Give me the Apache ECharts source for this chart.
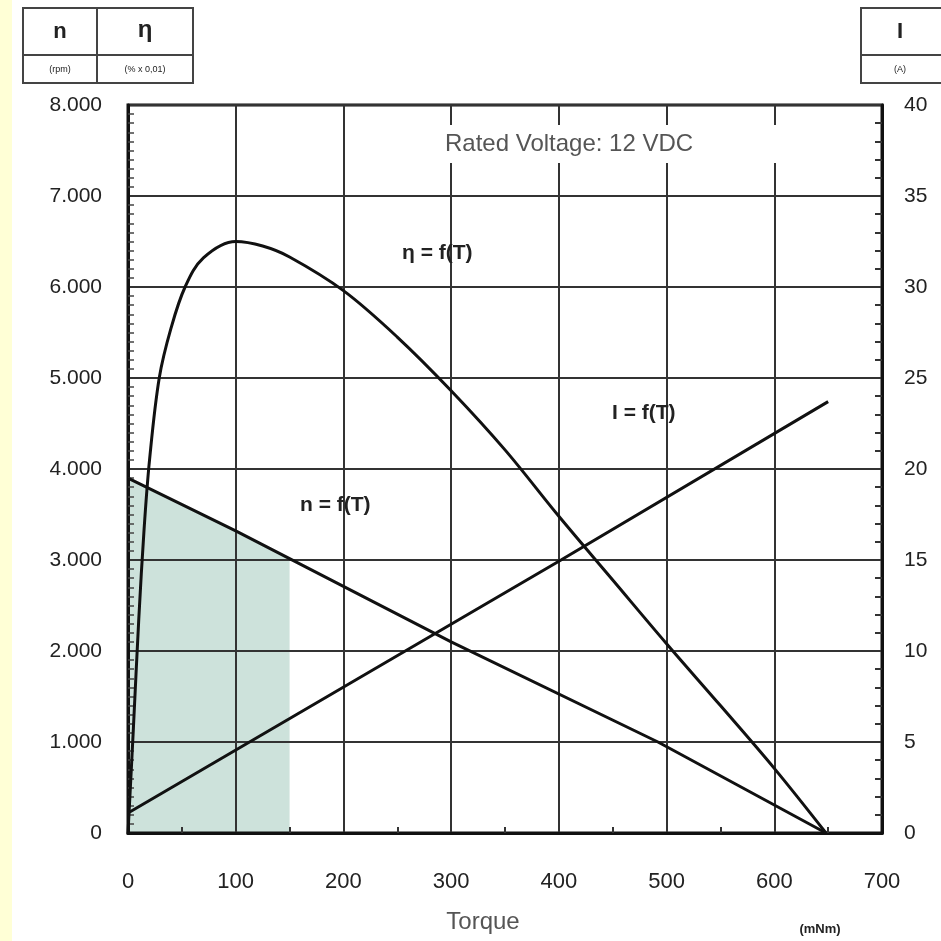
<!DOCTYPE html>
<html>
<head>
<meta charset="utf-8">
<script src="https://cdn.jsdelivr.net/npm/echarts@6/dist/echarts.min.js"></script>
<style>
html,body{margin:0;padding:0;background:#fff;}
#c{width:941px;height:941px;}
</style>
</head>
<body>
<div id="c"></div>
<script>
// Torque axis (mNm)
var xTicks = [0, 100, 200, 300, 400, 500, 600, 700];
var leftTicks = ['0', '1.000', '2.000', '3.000', '4.000', '5.000', '6.000', '7.000', '8.000'];
var rightTicks = [0, 5, 10, 15, 20, 25, 30, 35, 40];
// n = f(T) (rpm)
var speedData = [[0, 3900], [100, 3320], [300, 2100], [492, 1000], [648, 0]];
// shaded operating range
var shadeData = [[0, 3900], [100, 3320], [150, 3010]];
// eta = f(T) (% x 0,01)
var etaData = [[0, 0], [5, 1150], [10, 2350], [15, 3350], [20, 4100], [29, 5000], [40, 5550], [53, 6000],
  [70, 6320], [100, 6500], [125, 6450], [150, 6330], [200, 5960], [250, 5450], [300, 4860], [350, 4210],
  [400, 3480], [450, 2780], [500, 2080], [550, 1400], [600, 710], [648, 0]];
// I = f(T) (A)
var currentData = [[0, 1.1], [402, 15.0], [650, 23.7]];

var chart = echarts.init(document.getElementById('c'), null, {renderer: 'canvas'});
var FONT = 'Liberation Sans, Arial, sans-serif';
var txt = '#222';
var gridCol = '#333';

chart.setOption({
  backgroundColor: '#fff',
  animation: false,
  grid: {left: 128, right: 59, top: 105, bottom: 108, show: true, borderColor: '#111', borderWidth: 3, backgroundColor: 'transparent'},
  xAxis: {
    type: 'value', min: 0, max: 700, interval: 100,
    axisLine: {show: true, lineStyle: {color: '#111', width: 3}},
    axisTick: {show: false, inside: true},
    minorTick: {show: true, splitNumber: 2, length: 6, lineStyle: {color: '#333', width: 2}},
    splitLine: {show: true, lineStyle: {color: gridCol, width: 2}},
    axisLabel: {color: txt, fontFamily: FONT, fontSize: 22, margin: 38,
      formatter: function (v) { return xTicks.indexOf(v) >= 0 ? String(v) : ''; }}
  },
  yAxis: [{
    type: 'value', min: 0, max: 8000, interval: 1000, position: 'left',
    axisLine: {show: true, lineStyle: {color: '#111', width: 3}},
    axisTick: {show: false, inside: true},
    minorTick: {show: true, splitNumber: 10, length: 6, lineStyle: {color: '#444', width: 1.5}},
    splitLine: {show: true, lineStyle: {color: gridCol, width: 2}},
    axisLabel: {color: txt, fontFamily: FONT, fontSize: 21, margin: 26,
      formatter: function (v) { return leftTicks[Math.round(v / 1000)]; }}
  }, {
    type: 'value', min: 0, max: 40, interval: 5, position: 'right',
    axisLine: {show: true, lineStyle: {color: '#111', width: 3}},
    axisTick: {show: false, inside: true},
    minorTick: {show: true, splitNumber: 5, length: 7, lineStyle: {color: '#333', width: 2}},
    splitLine: {show: false},
    axisLabel: {color: txt, fontFamily: FONT, fontSize: 21, margin: 22,
      formatter: function (v) { return rightTicks.indexOf(v) >= 0 ? String(v) : ''; }}
  }],
  series: [
    {type: 'line', data: shadeData, symbol: 'none', z: -1, lineStyle: {width: 0, opacity: 0},
      areaStyle: {color: '#cde2db', opacity: 1}},
    {type: 'line', name: 'n', data: speedData, symbol: 'none', z: 3, lineStyle: {color: '#111', width: 3}},
    {type: 'line', name: 'eta', data: etaData, symbol: 'none', smooth: 0.35, z: 3, lineStyle: {color: '#111', width: 3}},
    {type: 'line', name: 'I', data: currentData, yAxisIndex: 1, symbol: 'none', z: 3, lineStyle: {color: '#111', width: 3}}
  ],
  graphic: [
    {type: 'rect', left: 0, top: 0, shape: {width: 12, height: 941}, style: {fill: '#ffffd6'}},
    // header box left
    {type: 'rect', shape: {x: 23, y: 8, width: 170, height: 75}, style: {fill: '#fff', stroke: '#444', lineWidth: 2}},
    {type: 'line', shape: {x1: 97, y1: 8, x2: 97, y2: 83}, style: {stroke: '#444', lineWidth: 2}},
    {type: 'line', shape: {x1: 23, y1: 55, x2: 193, y2: 55}, style: {stroke: '#444', lineWidth: 2}},
    {type: 'text', style: {x: 60, y: 32, text: 'n', font: 'bold 22px ' + FONT, fill: txt, textAlign: 'center', textVerticalAlign: 'middle'}},
    {type: 'text', style: {x: 145, y: 30, text: 'η', font: 'bold 24px ' + FONT, fill: txt, textAlign: 'center', textVerticalAlign: 'middle'}},
    {type: 'text', style: {x: 60, y: 70, text: '(rpm)', font: '9px ' + FONT, fill: txt, textAlign: 'center', textVerticalAlign: 'middle'}},
    {type: 'text', style: {x: 145, y: 70, text: '(% x 0,01)', font: '9px ' + FONT, fill: txt, textAlign: 'center', textVerticalAlign: 'middle'}},
    // header box right
    {type: 'rect', shape: {x: 861, y: 8, width: 90, height: 75}, style: {fill: '#fff', stroke: '#444', lineWidth: 2}},
    {type: 'line', shape: {x1: 861, y1: 55, x2: 941, y2: 55}, style: {stroke: '#444', lineWidth: 2}},
    {type: 'text', style: {x: 900, y: 32, text: 'I', font: 'bold 22px ' + FONT, fill: txt, textAlign: 'center', textVerticalAlign: 'middle'}},
    {type: 'text', style: {x: 900, y: 70, text: '(A)', font: '9px ' + FONT, fill: txt, textAlign: 'center', textVerticalAlign: 'middle'}},
    // annotations
    {type: 'rect', z: 5, shape: {x: 440, y: 125, width: 340, height: 38}, style: {fill: '#fff'}},
    {type: 'text', z: 6, style: {x: 445, y: 144, text: 'Rated Voltage: 12 VDC', font: '24px ' + FONT, fill: '#555', textVerticalAlign: 'middle'}},
    {type: 'text', z: 6, style: {x: 402, y: 253, text: 'η = f(T)', font: 'bold 21px ' + FONT, fill: txt, textVerticalAlign: 'middle'}},
    {type: 'text', z: 6, style: {x: 612, y: 413, text: 'I = f(T)', font: 'bold 21px ' + FONT, fill: txt, textVerticalAlign: 'middle'}},
    {type: 'text', z: 6, style: {x: 300, y: 505, text: 'n = f(T)', font: 'bold 21px ' + FONT, fill: txt, textVerticalAlign: 'middle'}},
    {type: 'text', z: 6, style: {x: 483, y: 922, text: 'Torque', font: '24px ' + FONT, fill: '#555', textAlign: 'center', textVerticalAlign: 'middle'}},
    {type: 'text', z: 6, style: {x: 820, y: 929, text: '(mNm)', font: 'bold 13px ' + FONT, fill: txt, textAlign: 'center', textVerticalAlign: 'middle'}}
  ]
});
</script>
</body>
</html>
